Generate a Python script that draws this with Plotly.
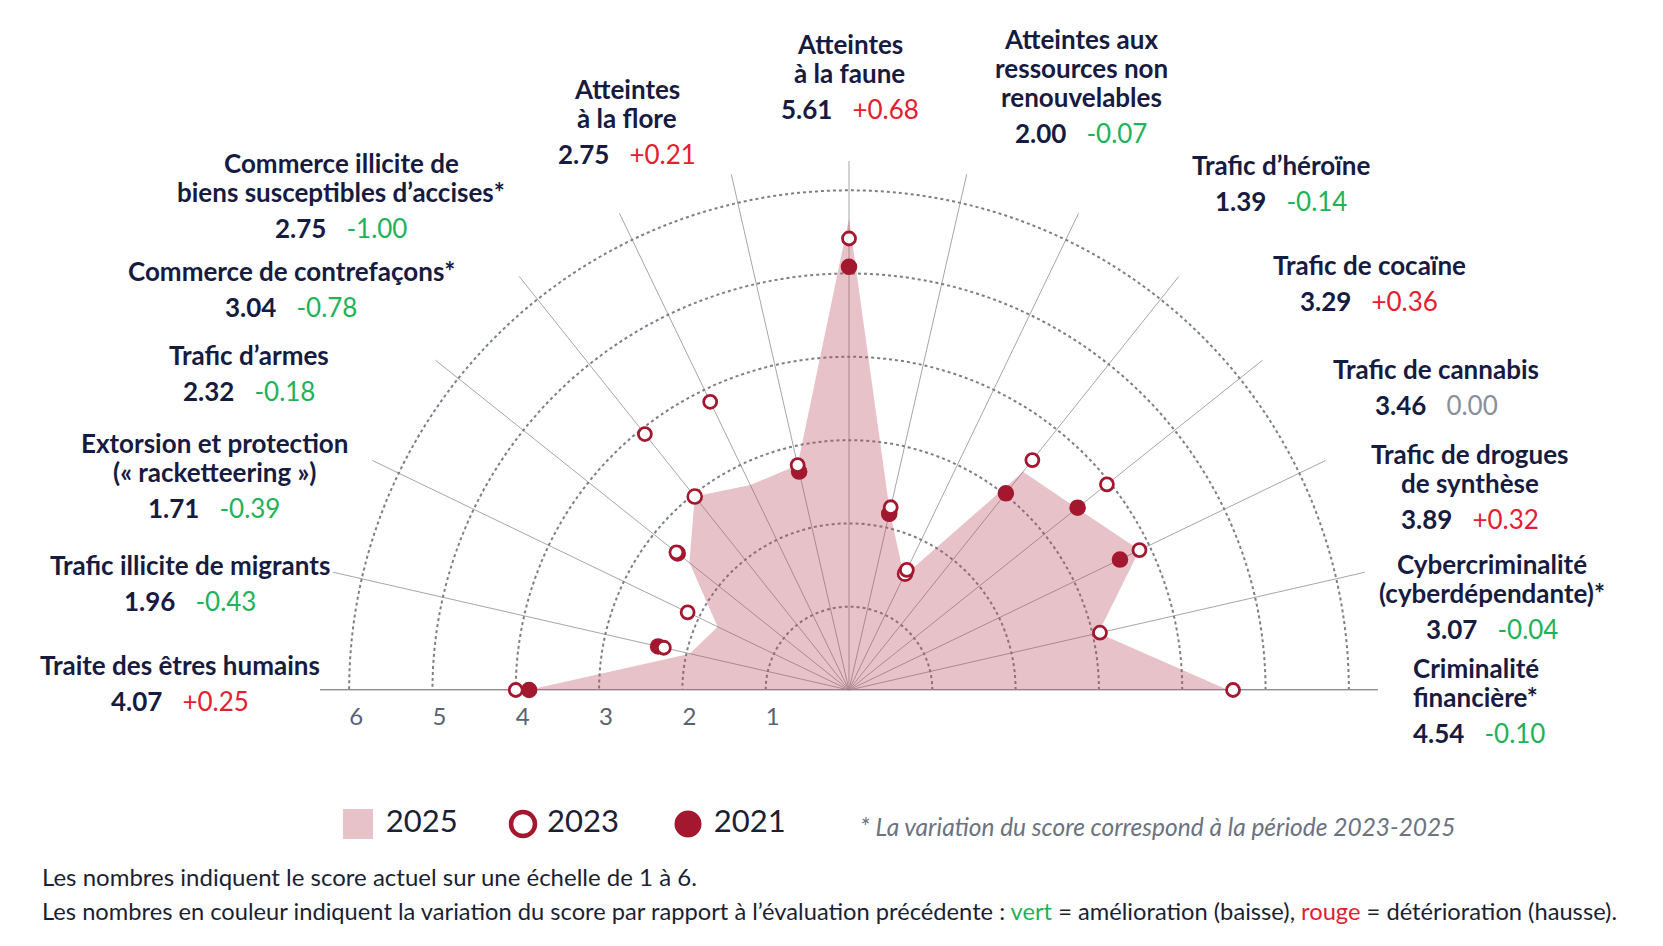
import plotly.graph_objects as go

# categories, left (180°) to right (0°)
categories = [
    "Traite des êtres humains",
    "Trafic illicite de migrants",
    "Extorsion et protection<br>(« racketteering »)",
    "Trafic d’armes",
    "Commerce de contrefaçons*",
    "Commerce illicite de<br>biens susceptibles d’accises*",
    "Atteintes<br>à la flore",
    "Atteintes<br>à la faune",
    "Atteintes aux<br>ressources non<br>renouvelables",
    "Trafic d’héroïne",
    "Trafic de cocaïne",
    "Trafic de cannabis",
    "Trafic de drogues<br>de synthèse",
    "Cybercriminalité<br>(cyberdépendante)*",
    "Criminalité<br>financière*",
]
scores = ["4.07", "1.96", "1.71", "2.32", "3.04", "2.75", "2.75", "5.61",
          "2.00", "1.39", "3.29", "3.46", "3.89", "3.07", "4.54"]
variations = ["+0.25", "-0.43", "-0.39", "-0.18", "-0.78", "-1.00", "+0.21", "+0.68",
              "-0.07", "-0.14", "+0.36", "0.00", "+0.32", "-0.04", "-0.10"]

# radial positions as drawn
r_2025 = [3.85, 1.96, 1.75, 2.45, 2.97, 2.73, 2.77, 5.66, 2.20, 1.52, 3.35, 3.50, 3.87, 3.07, 4.55]
r_2023 = [4.00, 2.28, 2.15, 2.65, 3.93, 3.84, 2.77, 5.42, 2.25, 1.60, 3.53, 3.96, 3.87, 3.09, 4.61]
r_2021 = [3.84, 2.35, None, 2.63, 2.97, None, 2.69, 5.08, 2.17, 1.55, 3.02, 3.51, 3.61, None, None]
open_2021 = [4, 9]  # 2021 points drawn as rings

series = ["2025", "2023", "2021"]
radial_ticks = [1, 2, 3, 4, 5, 6]
RMAX = 6.35

W, H = 1663, 946
OFF = 8  # page body margin
NAVY = "#171b3f"
GREEN = "#1fb25a"
RED = "#e2202f"
GREY = "#8a8f99"
DARKRED = "#a3182f"
FILL = "rgba(190,80,100,0.35)"
LINE_H = 29


def fx(x):
    return (x - OFF) / W


def fy(y):
    return 1 - (y - OFF) / H


n = len(categories)
theta = [180 - i * 180 / (n - 1) for i in range(n)]

# label placement in screen pixels: centre of value line (x, y), anchor
LABEL_POS = [
    (180, 701, "center"), (190, 601, "center"), (214, 508, "center"),
    (249, 391, "center"), (291, 307, "center"), (341, 228, "center"),
    (627, 154, "center"), (850, 109, "center"), (1081, 133, "center"),
    (1281, 201, "center"), (1369, 301, "center"), (1436, 405, "center"),
    (1470, 519, "center"), (1492, 629, "center"), (1411, 733, "left"),
]

cx, cy, rad = 849 - OFF, 690 - OFF, 529

fig = go.Figure()

fig.add_trace(go.Scatterpolar(
    r=[RMAX, 0, RMAX], theta=[180, 0, 0], mode="lines",
    line=dict(color=GREY, width=2), showlegend=False, hoverinfo="skip"))

fig.add_trace(go.Scatterpolar(
    r=r_2025, theta=theta, mode="lines", fill="toself",
    fillcolor=FILL, line=dict(width=0, color=FILL), name="2025", showlegend=False))

col_2021 = ["white" if i in open_2021 else DARKRED for i in range(n)]
fig.add_trace(go.Scatterpolar(
    r=r_2021, theta=theta, mode="markers", name="2021", showlegend=False,
    marker=dict(symbol="circle", size=14, color=col_2021, opacity=1,
                line=dict(width=2.6, color=DARKRED))))

fig.add_trace(go.Scatterpolar(
    r=r_2023, theta=theta, mode="markers", name="2023", showlegend=False,
    marker=dict(symbol="circle", size=13, color="white", opacity=1,
                line=dict(width=2.8, color=DARKRED))))

# legend drawn as marks on a hidden cartesian strip
leg_x0, leg_x1 = 300 - OFF, 800 - OFF
leg_y = 824
step = 165
leg_style = [
    dict(symbol="square", size=30, color="#e8c2c9", line=dict(width=0)),
    dict(symbol="circle", size=24, color="white", line=dict(width=4.5, color=DARKRED)),
    dict(symbol="circle", size=27, color=DARKRED, line=dict(width=0)),
]
for i, (s, mk) in enumerate(zip(series, leg_style)):
    fig.add_trace(go.Scatter(
        x=[i], y=[0], mode="markers+text", text=["\u00a0" + s], textposition="middle right",
        textfont=dict(family="Lato", size=31, color="#1c2033"),
        marker=dict(opacity=1, **mk), cliponaxis=False, showlegend=False,
        hoverinfo="skip", xaxis="x", yaxis="y"))

annotations = []
for name, sc, var, (px, py, anchor) in zip(categories, scores, variations, LABEL_POS):
    vcol = RED if var.startswith("+") else (GREEN if var.startswith("-") else GREY)
    lines = name.split("<br>")
    for j, line in enumerate(lines):
        ly = py - 36 - (len(lines) - 1 - j) * LINE_H
        annotations.append(dict(
            x=fx(px), y=fy(ly), xref="paper", yref="paper",
            xanchor=anchor, yanchor="middle", showarrow=False,
            text="<b>" + line + "</b>", font=dict(family="Lato", size=26, color=NAVY)))
    annotations.append(dict(
        x=fx(px), y=fy(py), xref="paper", yref="paper",
        xanchor=anchor, yanchor="middle", showarrow=False,
        text="<b>" + sc + "</b>\u00a0\u00a0\u00a0<span style='color:" + vcol + "'>" + var + "</span>",
        font=dict(family="Lato", size=26, color=NAVY)))

annotations.append(dict(
    x=fx(858), y=fy(826), xref="paper", yref="paper", xanchor="left", yanchor="middle",
    showarrow=False, text="<i>* La variation du score correspond à la période 2023-2025</i>",
    font=dict(family="Lato", size=24.5, color="#6d7280")))
annotations.append(dict(
    x=fx(40), y=fy(876), xref="paper", yref="paper", xanchor="left", yanchor="middle",
    showarrow=False, text="Les nombres indiquent le score actuel sur une échelle de 1 à 6.",
    font=dict(family="Lato", size=24, color="#1c1f33")))
annotations.append(dict(
    x=fx(40), y=fy(911), xref="paper", yref="paper", xanchor="left", yanchor="middle",
    showarrow=False,
    text="Les nombres en couleur indiquent la variation du score par rapport à l’évaluation précédente : "
         "<span style='color:" + GREEN + "'>vert</span> = amélioration (baisse), "
         "<span style='color:" + RED + "'>rouge</span> = détérioration (hausse).",
    font=dict(family="Lato", size=23.7, color="#1c1f33")))

fig.update_layout(
    width=W, height=H,
    margin=dict(l=0, r=0, t=0, b=0),
    paper_bgcolor="white",
    plot_bgcolor="rgba(0,0,0,0)",
    showlegend=False,
    xaxis=dict(domain=[leg_x0 / W, leg_x1 / W],
               range=[-(358 - 300) / step, -(358 - 300) / step + (leg_x1 - leg_x0) / step],
               visible=False, fixedrange=True),
    yaxis=dict(domain=[1 - (leg_y + 20 - OFF) / H, 1 - (leg_y - 20 - OFF) / H], range=[-1, 1],
               visible=False, fixedrange=True),
    polar=dict(
        domain=dict(x=[(cx - rad) / W, (cx + rad) / W], y=[(H - cy) / H, (H - cy + rad) / H]),
        sector=[0, 180],
        bgcolor="white",
        radialaxis=dict(range=[0, RMAX], angle=180, side="counterclockwise", tickangle=180,
                        tickvals=radial_ticks, ticks="outside", ticklen=1,
                        tickcolor="rgba(0,0,0,0)",
                        tickfont=dict(family="Lato", size=24, color="#5b6170"),
                        showline=False, gridcolor="#7b7f88", griddash="dot", gridwidth=1.5),
        angularaxis=dict(tickvals=theta, showticklabels=False, ticks="",
                         gridcolor="#a6a6a6", gridwidth=1, showline=False,
                         direction="counterclockwise", rotation=0),
    ),
    annotations=annotations,
)

fig.write_html("out.html")
